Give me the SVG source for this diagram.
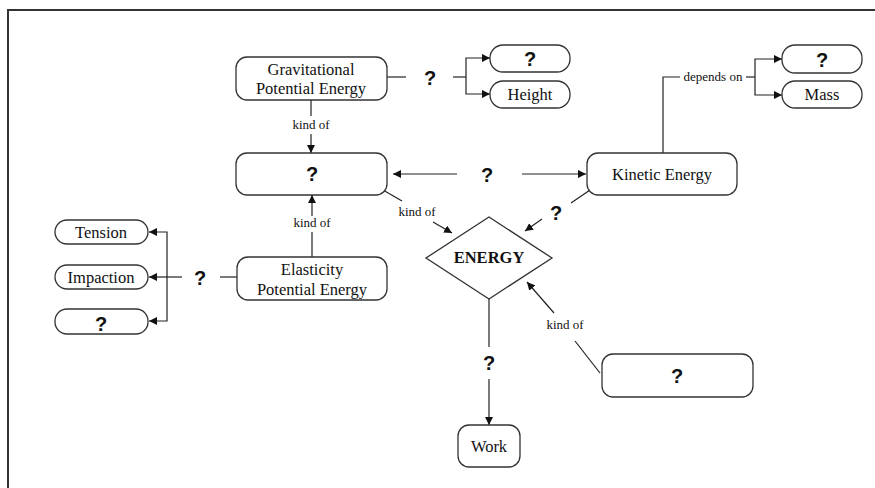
<svg xmlns="http://www.w3.org/2000/svg" width="875" height="488" viewBox="0 0 875 488">
<defs>
<marker id="ah" viewBox="0 0 10 10" refX="10" refY="5" markerWidth="8" markerHeight="8" markerUnits="userSpaceOnUse" orient="auto">
<path d="M0,0 L10,5 L0,10 z" fill="#111"/>
</marker>
<style>
.box{fill:#fff;stroke:#333;stroke-width:1.3}
.t{font-family:"Liberation Serif",serif;font-size:16.5px;fill:#111;text-anchor:middle}
.k{font-family:"Liberation Serif",serif;font-size:13px;fill:#111;text-anchor:middle}
.q{font-family:"Liberation Sans",Arial,sans-serif;font-size:20px;font-weight:bold;fill:#111;text-anchor:middle}
.c{fill:none;stroke:#222;stroke-width:1.2}
.a{fill:none;stroke:#222;stroke-width:1.2;marker-end:url(#ah)}
</style>
</defs>
<rect width="875" height="488" fill="#fff"/>
<path d="M8,488 V10 H875" fill="none" stroke="#333" stroke-width="2"/>

<g id="connectors">
<line class="c" x1="387" y1="77" x2="406" y2="77"/>
<text class="q" x="430" y="85">?</text>
<line class="c" x1="453" y1="77" x2="466" y2="77"/>
<polyline class="a" points="466,77 466,58 490,58"/>
<polyline class="a" points="466,77 466,94 490,94"/>
<line class="c" x1="311" y1="100" x2="311" y2="116"/>
<text class="k" x="311" y="129">kind of</text>
<line class="a" x1="311" y1="134" x2="311" y2="153"/>
<line class="c" x1="312" y1="257" x2="312" y2="232"/>
<text class="k" x="312" y="227">kind of</text>
<line class="a" x1="312" y1="216" x2="312" y2="195"/>
<line class="a" x1="457" y1="174" x2="393" y2="174"/>
<text class="q" x="487" y="182">?</text>
<line class="a" x1="522" y1="174" x2="586" y2="174"/>
<polyline class="c" points="663,153 663,77 680,77"/>
<text class="k" x="713" y="81">depends on</text>
<line class="c" x1="746" y1="77" x2="755" y2="77"/>
<polyline class="a" points="755,77 755,59 782,59"/>
<polyline class="a" points="755,77 755,95 782,95"/>
<line class="c" x1="383" y1="190" x2="402" y2="201"/>
<text class="k" x="417" y="216">kind of</text>
<line class="a" x1="433" y1="222" x2="452" y2="233"/>
<line class="c" x1="590" y1="190" x2="571" y2="203"/>
<text class="q" x="556" y="220">?</text>
<line class="a" x1="542" y1="219" x2="525" y2="231"/>
<line class="c" x1="600" y1="373" x2="575" y2="341"/>
<text class="k" x="565" y="329">kind of</text>
<line class="a" x1="554" y1="313" x2="527" y2="282"/>
<line class="c" x1="489" y1="299" x2="489" y2="347"/>
<text class="q" x="489" y="370">?</text>
<line class="a" x1="489" y1="379" x2="489" y2="425"/>
<line class="c" x1="237" y1="277" x2="220" y2="277"/>
<text class="q" x="200" y="285">?</text>
<line class="c" x1="182" y1="277" x2="167" y2="277"/>
<polyline class="a" points="167,277 167,232 149,232"/>
<line class="a" x1="167" y1="277" x2="149" y2="277"/>
<polyline class="a" points="167,277 167,321 149,321"/>
</g>

<g id="gpe">
<rect class="box" x="236" y="57" width="151" height="43" rx="11"/>
<text class="t" x="311" y="75">Gravitational</text>
<text class="t" x="311" y="94">Potential Energy</text>
</g>
<g id="gpe-q">
<rect class="box" x="490" y="45" width="80" height="27" rx="13"/>
<text class="q" x="530" y="66">?</text>
</g>
<g id="height">
<rect class="box" x="490" y="81" width="80" height="27" rx="13"/>
<text class="t" x="530" y="100">Height</text>
</g>
<g id="middle">
<rect class="box" x="236" y="153" width="151" height="42" rx="11"/>
<text class="q" x="312" y="181">?</text>
</g>
<g id="kinetic">
<rect class="box" x="587" y="153" width="150" height="42" rx="11"/>
<text class="t" x="662" y="180">Kinetic Energy</text>
</g>
<g id="kin-q">
<rect class="box" x="782" y="45" width="80" height="28" rx="13"/>
<text class="q" x="822" y="67">?</text>
</g>
<g id="mass">
<rect class="box" x="782" y="81" width="80" height="27" rx="13"/>
<text class="t" x="822" y="100">Mass</text>
</g>
<g id="elasticity">
<rect class="box" x="237" y="257" width="150" height="43" rx="11"/>
<text class="t" x="312" y="275">Elasticity</text>
<text class="t" x="312" y="295">Potential Energy</text>
</g>
<g id="tension">
<rect class="box" x="55" y="220" width="93" height="24" rx="12"/>
<text class="t" x="101" y="238">Tension</text>
</g>
<g id="impaction">
<rect class="box" x="55" y="265" width="93" height="24" rx="12"/>
<text class="t" x="101" y="283">Impaction</text>
</g>
<g id="elas-q">
<rect class="box" x="55" y="309" width="93" height="25" rx="12"/>
<text class="q" x="101" y="331">?</text>
</g>
<g id="energy">
<polygon points="489,217 552,258 489,299 426,258" fill="#fff" stroke="#333" stroke-width="1.3"/>
<text x="489" y="263" font-family="'Liberation Serif',serif" font-size="16.5" font-weight="bold" text-anchor="middle" fill="#111">ENERGY</text>
</g>
<g id="br-q">
<rect class="box" x="602" y="354" width="151" height="43" rx="11"/>
<text class="q" x="677" y="383">?</text>
</g>
<g id="work">
<rect class="box" x="458" y="425" width="62" height="42" rx="11"/>
<text class="t" x="489" y="452">Work</text>
</g>
</svg>
